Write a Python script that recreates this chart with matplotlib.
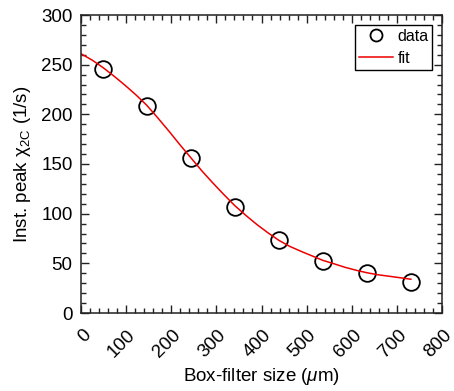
import matplotlib
matplotlib.use('Agg')
import matplotlib.pyplot as plt
import matplotlib.transforms as mtransforms
from matplotlib.ticker import MultipleLocator

# measured points
box_size = [49, 146, 244, 341, 439, 536, 634, 731]
peak_rate = [245.3, 208.1, 155.7, 106.4, 73.5, 52.7, 40.0, 31.5]

# fit curve
fit_x = [0, 25, 49, 73, 97, 122, 146, 170, 195, 219, 244, 268, 292, 317, 341,
         366, 390, 415, 439, 463, 488, 512, 536, 561, 585, 610, 634, 658, 683, 707, 731]
fit_y = [261, 254.5, 247, 238.5, 229.5, 219.5, 209, 196.5, 183, 169.5, 156, 143, 131, 119, 108,
         98, 89, 80.5, 73, 67, 62, 57.5, 53, 49.5, 46, 43, 40.5, 38.5, 37, 35.5, 34]

x_ticks = [0, 100, 200, 300, 400, 500, 600, 700, 800]
y_ticks = [0, 50, 100, 150, 200, 250, 300]

plt.rcParams['font.family'] = ['Liberation Sans', 'DejaVu Sans']
plt.rcParams['mathtext.fontset'] = 'custom'
plt.rcParams['mathtext.rm'] = 'Liberation Sans'
plt.rcParams['mathtext.it'] = 'Liberation Sans:italic'

fig = plt.figure(figsize=(4.54, 3.91), dpi=100)
ax = fig.add_axes([81 / 454, 1 - 313 / 391, 361 / 454, 298 / 391])

ax.plot(box_size, peak_rate, 'o', mfc='none', mec='black', ms=12, mew=1.3, label='data')
ax.plot(fit_x, fit_y, '-', color='#ee0000', lw=1.1, label='fit')

ax.set_xlim(0, 800)
ax.set_ylim(0, 300)
ax.set_xticks(x_ticks, [str(t) for t in x_ticks], rotation=45, rotation_mode='anchor',
              ha='right', va='center')
ax.set_yticks(y_ticks, [str(t) for t in y_ticks])
ax.xaxis.set_minor_locator(MultipleLocator(20))
ax.yaxis.set_minor_locator(MultipleLocator(10))

ax.tick_params(which='both', direction='in', top=True, right=True, width=1, color='#222222')
ax.tick_params(which='major', length=6)
ax.tick_params(which='minor', length=3.5)
ax.tick_params(axis='y', labelsize=13.5, pad=6)
ax.tick_params(axis='x', labelsize=13.5, pad=14)

# shift the slanted labels a little to the right, like the original
shift = mtransforms.ScaledTranslation(7 / 100, 0, fig.dpi_scale_trans)
for lab in ax.get_xticklabels():
    lab.set_transform(lab.get_transform() + shift)

for sp in ax.spines.values():
    sp.set_linewidth(1.1)
    sp.set_color('#222222')

ax.set_xlabel(r'Box-filter size ($\mathit{\mu}$m)', fontsize=13.5, labelpad=4)
ax.set_ylabel(r'Inst. peak $\mathrm{\chi}_{\mathrm{2C}}$ (1/s)', fontsize=13.5, labelpad=6)

leg = ax.legend(loc='upper right', fontsize=11.5, frameon=True, fancybox=False,
                edgecolor='black', framealpha=1, markerscale=0.72, handlelength=2.1,
                labelspacing=0.45, borderpad=0.25, handletextpad=0.3, borderaxespad=0.6)
leg.get_frame().set_linewidth(1)

fig.savefig('out.png', dpi=100)
